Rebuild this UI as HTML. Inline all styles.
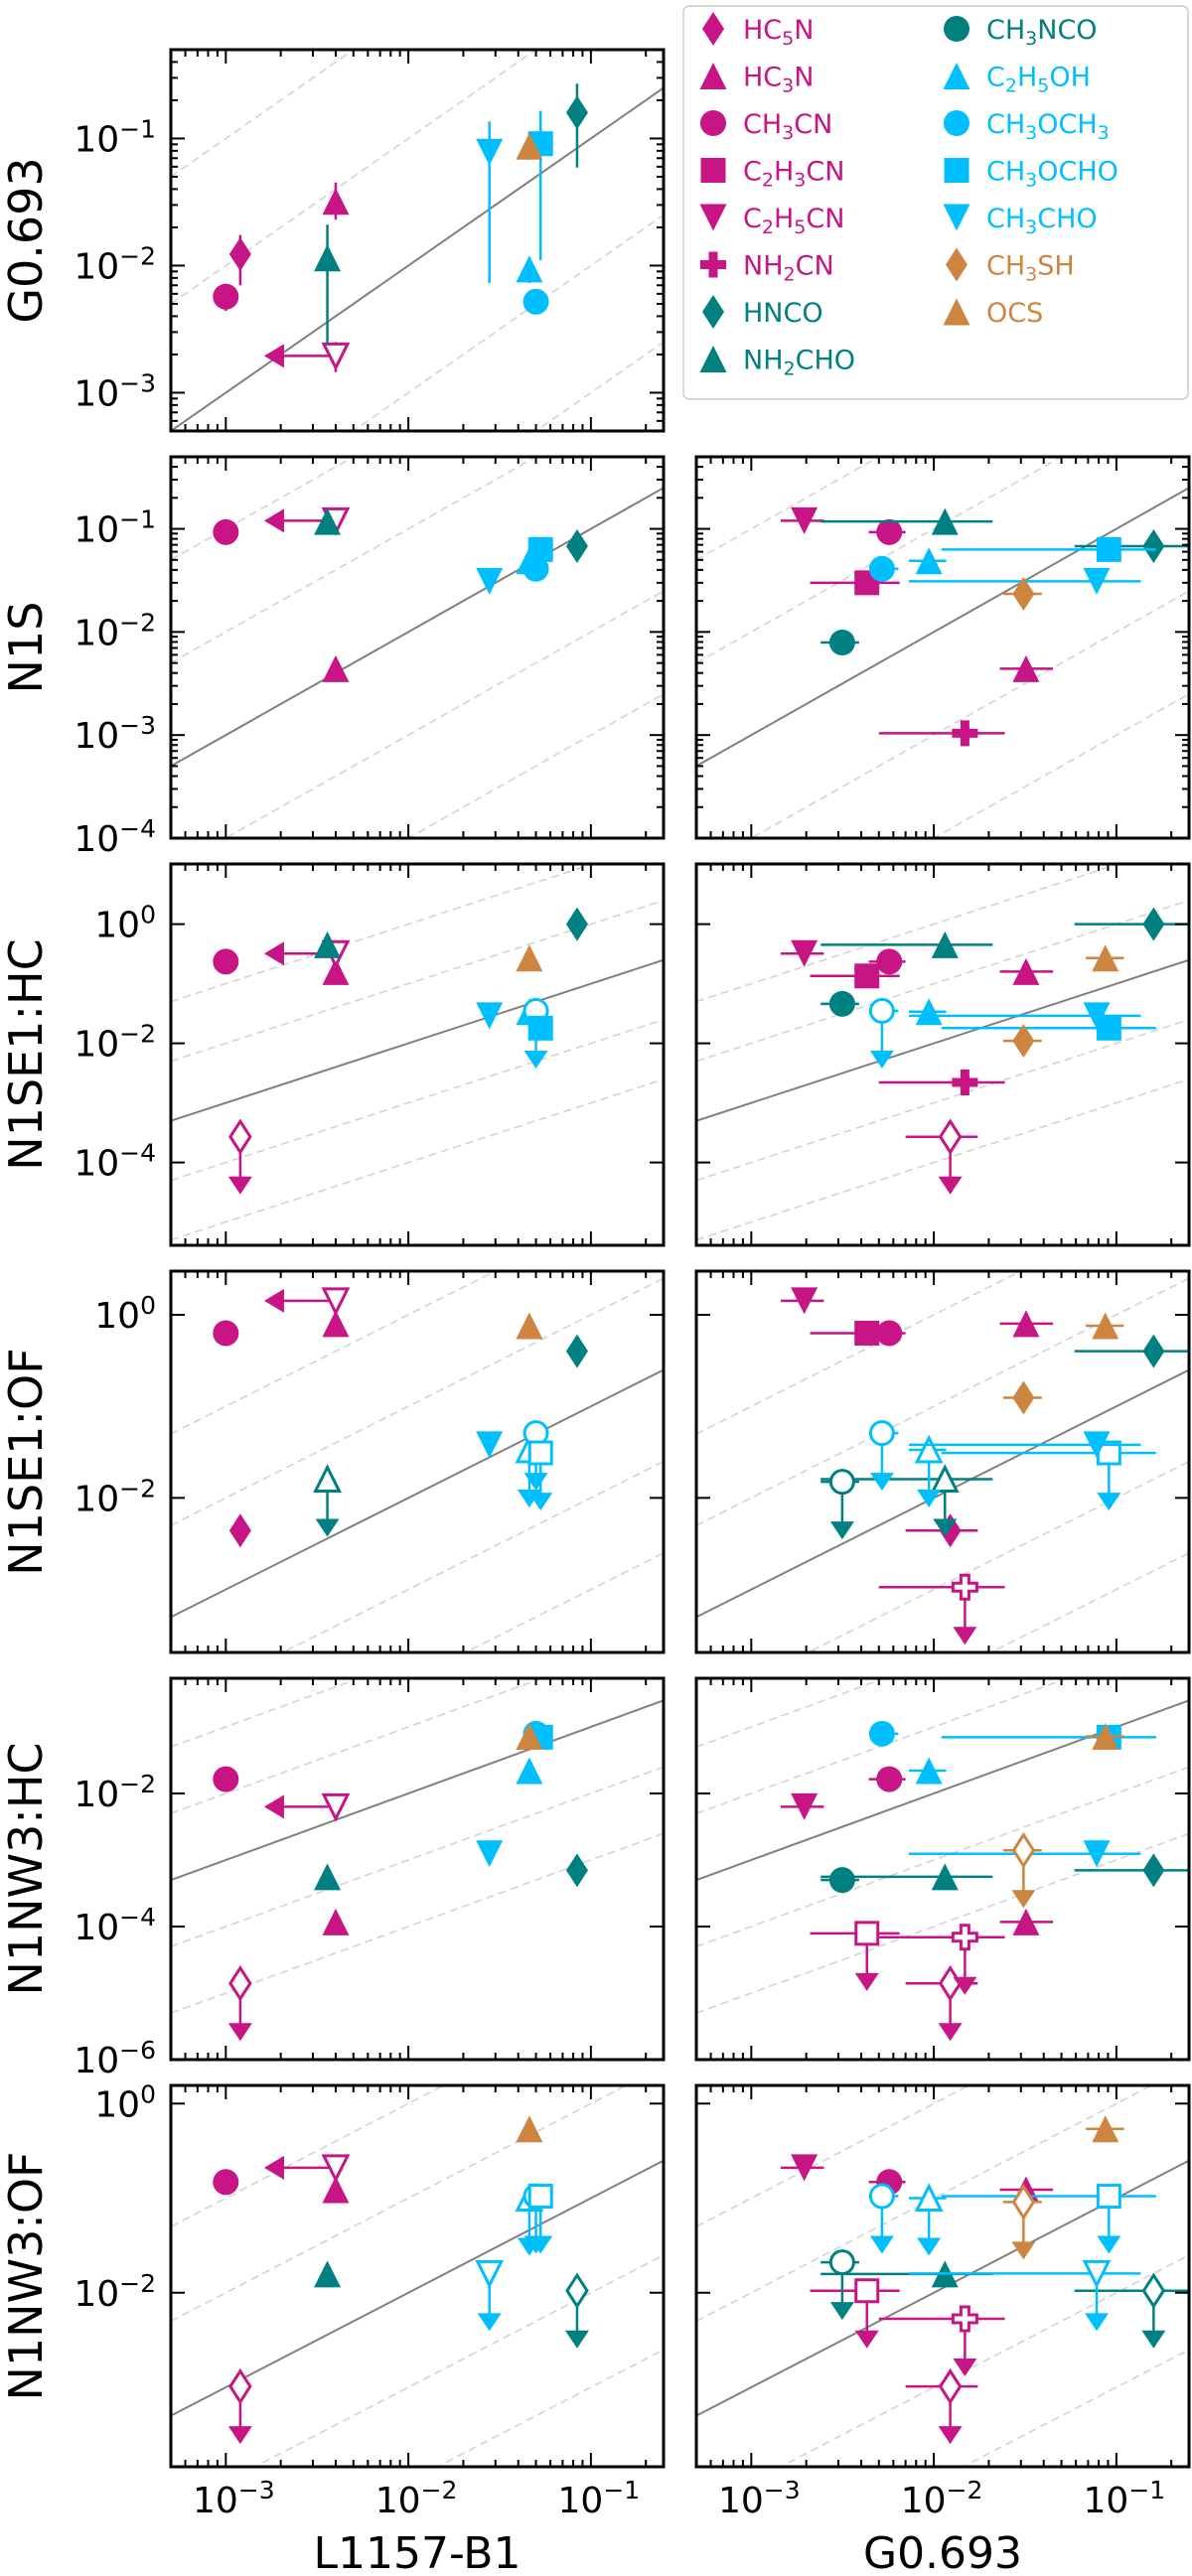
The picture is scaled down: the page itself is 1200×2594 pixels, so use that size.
<!DOCTYPE html>
<html>
<head>
<meta charset="utf-8">
<style>
html,body{margin:0;padding:0;background:#fff;}
svg{display:block;font-family:"DejaVu Sans","Liberation Sans",sans-serif;}
</style>
</head>
<body>
<svg id="chart" width="1200" height="2594" viewBox="0 0 1200 2594" xmlns="http://www.w3.org/2000/svg">
<rect x="0" y="0" width="1200" height="2594" fill="#ffffff"/>
</svg>
<script>
// ---- data ----
const species = ["HC5N","HC3N","CH3CN","C2H3CN","C2H5CN","NH2CN","HNCO","NH2CHO","CH3NCO","C2H5OH","CH3OCH3","CH3OCHO","CH3CHO","CH3SH","OCS"];
const l1157   = [1.2e-3, 4.0e-3, 1.0e-3, null, 4.0e-3, null, 0.084, 3.6e-3, null, 0.046, 0.050, 0.053, 0.0278, null, 0.046];
const l1157UL = [0,0,0,0,1,0,0,0,0,0,0,0,0,0,0];
const g0693   = [0.0123, 0.032, 5.7e-3, 4.3e-3, 1.95e-3, 0.0148, 0.16, 0.0115, 3.15e-3, 9.4e-3, 5.2e-3, 0.091, 0.078, 0.031, 0.087];
const g0693Lo = [7e-3, 0.023, 4.4e-3, 2.1e-3, 1.45e-3, 5e-3, 0.059, 2.4e-3, 2.4e-3, 7.3e-3, 4.6e-3, 0.011, 7.3e-3, 0.024, 0.068];
const g0693Hi = [0.0174, 0.045, 7e-3, 6.5e-3, 2.5e-3, 0.0245, 0.27, 0.021, 3.9e-3, 0.0117, 6.4e-3, 0.165, 0.136, 0.039, 0.11];
const n1s       = [null, 4.4e-3, 0.093, 0.030, 0.12, 1.04e-3, 0.068, 0.118, 7.9e-3, 0.049, 0.041, 0.063, 0.031, 0.0234, null];
const n1sUL     = [0,0,0,0,0,0,0,0,0,0,0,0,0,0,0];
const n1se1hc   = [2.7e-4, 0.16, 0.235, 0.135, 0.32, 2.2e-3, 1.0, 0.45, 0.046, 0.034, 0.035, 0.018, 0.029, 0.011, 0.27];
const n1se1hcUL = [1,0,0,0,0,0,0,0,0,0,1,0,0,0,0];
const n1se1of   = [4.4e-3, 0.8, 0.63, 0.63, 1.42, 1.06e-3, 0.40, 0.016, 0.015, 0.0335, 0.051, 0.031, 0.038, 0.124, 0.76];
const n1se1ofUL = [0,0,0,0,0,1,0,1,1,1,1,1,0,0,0];
const n1nw3hc   = [1.4e-5, 1.17e-4, 0.0164, 7.9e-5, 6.3e-3, 6.9e-5, 7e-4, 5.6e-4, 5e-4, 0.022, 0.079, 0.070, 1.24e-3, 1.4e-3, 0.072];
const n1nw3hcUL = [1,0,0,1,0,1,0,0,0,0,0,0,0,1,0];
const n1nw3of   = [1.02e-3, 0.123, 0.148, 0.0105, 0.21, 5.3e-3, 0.0105, 0.0158, 0.021, 0.10, 0.105, 0.105, 0.016, 0.091, 0.54];
const n1nw3ofUL = [1,0,0,1,0,1,1,0,1,1,1,1,1,1,0];
const rowLabels = ["G0.693","N1S","N1SE1:HC","N1SE1:OF","N1NW3:HC","N1NW3:OF"];
const xTickExps = [-3,-2,-1];

// ---- styles ----
const markerType = ['d','^','o','s','v','P','d','^','o','^','o','s','v','d','^'];
const MAG='#C71585', TEAL='#008080', SKY='#00BFFF', PERU='#CD853F';
const markerColor = [MAG,MAG,MAG,MAG,MAG,MAG,TEAL,TEAL,TEAL,SKY,SKY,SKY,SKY,PERU,PERU];
const sources = [n1s, n1se1hc, n1se1of, n1nw3hc, n1nw3of];
const sourcesUL = [n1sUL, n1se1hcUL, n1se1ofUL, n1nw3hcUL, n1nw3ofUL];
const YR = [[Math.log10(5e-4), Math.log10(0.5)],[-4,-0.301],[-5.39,1.01],[-3.688,0.477],[-6,-0.269],[-3.84,0.192]];
const ystep = [1,1,2,2,2,2];
const yminor = [true,true,false,false,false,false];

const NS='http://www.w3.org/2000/svg';
const svg=document.getElementById('chart');
function mk(tag, attrs, parent){const e=document.createElementNS(NS,tag); for(const k in attrs) e.setAttribute(k,attrs[k]); (parent||svg).appendChild(e); return e;}

const PL=[172,701], PW=496, PH=384;
const XMIN=Math.log10(5e-4), XMAX=Math.log10(0.25);
function PT(r){return 50+410*r;}
function xpx(v,col){return PL[col]+(Math.log10(v)-XMIN)/(XMAX-XMIN)*PW;}
function xpxL(l,col){return PL[col]+(l-XMIN)/(XMAX-XMIN)*PW;}
function ypx(v,r){return PT(r)+(YR[r][1]-Math.log10(v))/(YR[r][1]-YR[r][0])*PH;}
function ypxL(l,r){return PT(r)+(YR[r][1]-l)/(YR[r][1]-YR[r][0])*PH;}

function drawMarker(g,type,cx,cy,color,open){
  const fill=open?'#ffffff':color, sw=open?3:0;
  let e;
  if(type==='o'){e=mk('circle',{cx:cx,cy:cy,r:open?11.5:13,fill:fill,stroke:color,'stroke-width':sw},g);}
  else if(type==='s'){const h=open?11:12.5;e=mk('rect',{x:cx-h,y:cy-h,width:2*h,height:2*h,fill:fill,stroke:color,'stroke-width':sw},g);}
  else if(type==='^'){const s=open?12:13.5;e=mk('polygon',{points:`${cx},${cy-s} ${cx-s},${cy+s} ${cx+s},${cy+s}`,fill:fill,stroke:color,'stroke-width':sw},g);}
  else if(type==='v'){const s=open?12:13.5;e=mk('polygon',{points:`${cx},${cy+s} ${cx-s},${cy-s} ${cx+s},${cy-s}`,fill:fill,stroke:color,'stroke-width':sw},g);}
  else if(type==='d'){const w=open?10:11,h=open?15.5:17;e=mk('polygon',{points:`${cx},${cy-h} ${cx+w},${cy} ${cx},${cy+h} ${cx-w},${cy}`,fill:fill,stroke:color,'stroke-width':sw},g);}
  else {const a=open?12:13,b=open?4:4.5;e=mk('polygon',{points:`${cx-b},${cy-a} ${cx+b},${cy-a} ${cx+b},${cy-b} ${cx+a},${cy-b} ${cx+a},${cy+b} ${cx+b},${cy+b} ${cx+b},${cy+a} ${cx-b},${cy+a} ${cx-b},${cy+b} ${cx-a},${cy+b} ${cx-a},${cy-b} ${cx-b},${cy-b}`,fill:fill,stroke:color,'stroke-width':sw},g);}
  return e;
}
function downArrow(g,cx,cy,color){
  const l=mk('line',{x1:cx,y1:cy,x2:cx,y2:cy+56,stroke:color,'stroke-width':2.5},g);
  
  
  const h=mk('polygon',{points:`${cx-12},${cy+40} ${cx+12},${cy+40} ${cx},${cy+58}`,fill:color},g);
  
  
}
function leftArrow(g,cx,cy,color){
  const l=mk('line',{x1:cx,y1:cy,x2:cx-70,y2:cy,stroke:color,'stroke-width':2.5},g);
  
  
  const h=mk('polygon',{points:`${cx-52},${cy-12} ${cx-52},${cy+12} ${cx-72},${cy}`,fill:color},g);
  
  
}
function supLabel(parent,x,y,exp,anchor){
  const t=mk('text',{x:x,y:y,'font-size':36,'text-anchor':anchor,fill:'#000'},parent);
  t.appendChild(document.createTextNode('10'));
  const s=mk('tspan',{dy:-14,'font-size':25},t);
  s.textContent=(exp<0?'\u2212':'')+Math.abs(exp);
  return t;
}

function drawPanel(r,col){
  const x0=PL[col], y0=PT(r);
  const g=mk('g',{});
  
  
  const cid=`clip-${r}-${col}`;
  const cp=mk('clipPath',{id:cid},g);
  mk('rect',{x:x0,y:y0,width:PW,height:PH},cp);
  const plot=mk('g',{'clip-path':`url(#${cid})`},g);
  
  
  // reference lines
  [-2,-1,1,2].forEach(k=>{
    const ln=mk('line',{x1:xpxL(XMIN,col),y1:ypxL(XMIN+k,r),x2:xpxL(XMAX,col),y2:ypxL(XMAX+k,r),stroke:'#d3d3d3','stroke-width':1.6,'stroke-dasharray':'8,5'},plot);
    
    
  });
  const one=mk('line',{x1:xpxL(XMIN,col),y1:ypxL(XMIN,r),x2:xpxL(XMAX,col),y2:ypxL(XMAX,r),stroke:'#808080','stroke-width':2},plot);
  
  
  // data
  for(let i=0;i<species.length;i++){
    let xv,yv,open=false,ul=false,lul=false,xerr=null,yerr=null;
    if(r===0){ if(col!==0) continue; xv=l1157[i]; yv=g0693[i]; lul=!!l1157UL[i]; open=lul; yerr=[g0693Lo[i],g0693Hi[i]]; }
    else{
      yv=sources[r-1][i]; ul=!!sourcesUL[r-1][i];
      if(col===0){xv=l1157[i]; lul=!!l1157UL[i]; open=ul||lul;}
      else{xv=g0693[i]; open=ul; xerr=[g0693Lo[i],g0693Hi[i]];}
    }
    if(xv==null||yv==null) continue;
    const cx=xpx(xv,col), cy=ypx(yv,r), c=markerColor[i];
    const pg=mk('g',{},plot);
    
    
    if(yerr){const e=mk('line',{x1:cx,y1:ypx(yerr[0],r),x2:cx,y2:ypx(yerr[1],r),stroke:c,'stroke-width':2.5},pg);
      
      }
    if(xerr){const e=mk('line',{x1:xpx(xerr[0],col),y1:cy,x2:xpx(xerr[1],col),y2:cy,stroke:c,'stroke-width':2.5},pg);
      
      }
    if(ul) downArrow(pg,cx,cy,c);
    if(lul) leftArrow(pg,cx,cy,c);
    const m=drawMarker(pg,markerType[i],cx,cy,c,open);
    
    
  }
  // ticks
  const tk=mk('g',{stroke:'#000','stroke-width':2},g);
  
  
  for(let d=-4;d<=0;d++){
    for(let m=1;m<=9;m++){
      const l=d+Math.log10(m); if(l<XMIN-1e-6||l>XMAX+1e-6) continue;
      const x=xpxL(l,col), len=m===1?14:7;
      mk('line',{x1:x,y1:y0+PH,x2:x,y2:y0+PH-len},tk);
      mk('line',{x1:x,y1:y0,x2:x,y2:y0+len},tk);
    }
  }
  for(let d=-7;d<=2;d++){
    const isMaj=(((d%ystep[r])+ystep[r])%ystep[r])===0;
    for(let m=1;m<=9;m++){
      if(m>1&&!yminor[r]) continue;
      if(m===1&&!isMaj&&!yminor[r]) continue;
      const l=d+Math.log10(m); if(l<YR[r][0]-1e-3||l>YR[r][1]+1e-3) continue;
      const y=ypxL(l,r), len=(m===1&&isMaj)?14:7;
      mk('line',{x1:x0,y1:y,x2:x0+len,y2:y},tk);
      mk('line',{x1:x0+PW,y1:y,x2:x0+PW-len,y2:y},tk);
      if(m===1&&isMaj&&col===0){
        const t=supLabel(g,157,y+13,d,'end');
        
        
      }
    }
  }
  const fr=mk('rect',{x:x0,y:y0,width:PW,height:PH,fill:'none',stroke:'#000','stroke-width':3},g);
  
  
  if(r===5){
    xTickExps.forEach(e=>{
      const t=supLabel(g,xpxL(e,col)+8,2530,e,'middle');
      
      
    });
  }
}

for(let r=0;r<6;r++){ drawPanel(r,0); if(r>0) drawPanel(r,1); }

// row labels
rowLabels.forEach((lab,r)=>{
  const cy=PT(r)+PH/2;
  const t=mk('text',{x:42,y:cy,'font-size':46,'text-anchor':'middle',transform:`rotate(-90 42 ${cy})`,fill:'#000'});
  t.textContent=lab;
  
  
});
const xt1=mk('text',{x:PL[0]+PW/2,y:2586,'font-size':44,'text-anchor':'middle',fill:'#000'});
xt1.textContent='L1157-B1';


const xt2=mk('text',{x:PL[1]+PW/2,y:2586,'font-size':44,'text-anchor':'middle',fill:'#000'});
xt2.textContent='G0.693';



// legend
const lg=mk('g',{});


const lb=mk('rect',{x:688,y:6,width:508,height:396,rx:6,fill:'#fff',stroke:'#cccccc','stroke-width':1.5},lg);


species.forEach((sp,i)=>{
  const col=i<8?0:1, row=i<8?i:i-8;
  const mx=718+col*245, my=29+row*47.5;
  const eg=mk('g',{},lg);
  
  
  drawMarker(eg,markerType[i],mx,my,markerColor[i],false);
  const t=mk('text',{x:mx+30,y:my+10,'font-size':27,fill:markerColor[i]},eg);
  let sub=false;
  const chars=sp.split('');
  let buf='';
  const flush=(isSub)=>{ if(!buf) return; const ts=mk('tspan',{},t); if(isSub){ts.setAttribute('font-size','19');ts.setAttribute('dy','6');} else if(t.childNodes.length>1){ts.setAttribute('dy','-6');} ts.textContent=buf; buf=''; };
  let prevSub=false;
  chars.forEach(ch=>{const isD=/[0-9]/.test(ch); if(isD!==prevSub){flush(prevSub); prevSub=isD;} buf+=ch;});
  flush(prevSub);
});
</script>
</body>
</html>
